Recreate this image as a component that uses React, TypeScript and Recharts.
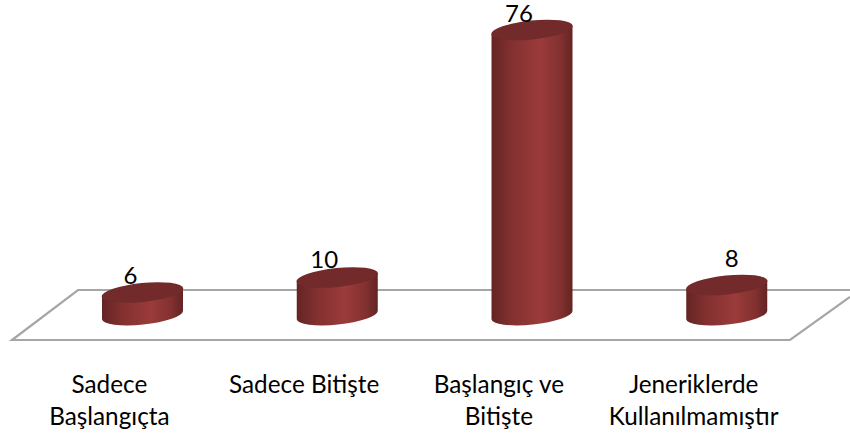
import { BarChart, Bar, XAxis, YAxis, LabelList, Customized } from 'recharts'

const categories = ['Sadece\nBaşlangıçta', 'Sadece Bitişte', 'Başlangıç ve\nBitişte', 'Jeneriklerde\nKullanılmamıştır']
const values = [6, 10, 76, 8]

const data = categories.map((category, i) => ({ category, value: values[i] }))

const FONT = 'Lato, "Open Sans", sans-serif'
const FLOOR = '#a6a6a6'
// the value labels sit off-centre in the original, one nudge per bar
const labelNudge = [
  { dx: -12, dy: -18 },
  { dx: -13, dy: -19 },
  { dx: -13, dy: -18 },
  { dx: 5, dy: -28 },
]

function Floor() {
  return (
    <path
      d="M850 297 L790 340 L12 340 L78 290 L850 290"
      fill="none"
      stroke={FLOOR}
      strokeWidth={2.2}
    />
  )
}

function Cylinder({ x, y, width, height }: any) {
  const rx = width / 2
  const ry = 9.5
  const lean = 4.2
  const cx = x + rx
  const bottom = y + height
  return (
    <g>
      <path
        d={`M${x} ${y + lean} L${x} ${bottom + lean} A${rx} ${ry} -6 0 0 ${x + width} ${bottom - lean} L${x + width} ${y - lean} Z`}
        fill="url(#cylinderBody)"
      />
      <ellipse cx={cx} cy={y} rx={rx + 0.5} ry={ry} fill="#722b2a" transform={`rotate(-6 ${cx} ${y})`} />
    </g>
  )
}

function CategoryTick({ x, y, payload }: any) {
  const lines = String(payload.value).split('\n')
  return (
    <text x={x - 33} y={y} textAnchor="middle" fontFamily={FONT} fontSize={24.3} fill="#000">
      {lines.map((line, i) => (
        <tspan key={line} x={x - 33} dy={i === 0 ? 0 : 32}>
          {line}
        </tspan>
      ))}
    </text>
  )
}

function ValueLabel({ x, y, width, value, index }: any) {
  const nudge = labelNudge[index]
  return (
    <text
      x={x + width / 2 + nudge.dx}
      y={y + nudge.dy}
      textAnchor="middle"
      dominantBaseline="central"
      fontFamily={FONT}
      fontSize={24}
      fill="#000"
    >
      {value}
    </text>
  )
}

export default function App() {
  return (
    <div style={{ position: 'absolute', left: 0, top: 0, width: 850, height: 434, background: '#fff' }}>
      <BarChart width={850} height={434} data={data} margin={{ top: 15, right: 26, bottom: 0, left: 45 }}>
        <defs>
          <linearGradient id="cylinderBody" x1="0" y1="0" x2="1" y2="0">
            <stop offset="0%" stopColor="#642423" />
            <stop offset="25%" stopColor="#823130" />
            <stop offset="60%" stopColor="#9b3b3a" />
            <stop offset="85%" stopColor="#823130" />
            <stop offset="100%" stopColor="#632423" />
          </linearGradient>
        </defs>
        <Customized component={Floor} />
        <XAxis
          dataKey="category"
          height={119}
          axisLine={false}
          tickLine={false}
          interval={0}
          tickMargin={0}
          tick={(props: any) => <CategoryTick {...props} y={393} />}
        />
        <YAxis hide domain={[0, 80]} />
        <Bar dataKey="value" barSize={81} shape={Cylinder} isAnimationActive={false}>
          <LabelList dataKey="value" content={ValueLabel} />
        </Bar>
      </BarChart>
    </div>
  )
}
